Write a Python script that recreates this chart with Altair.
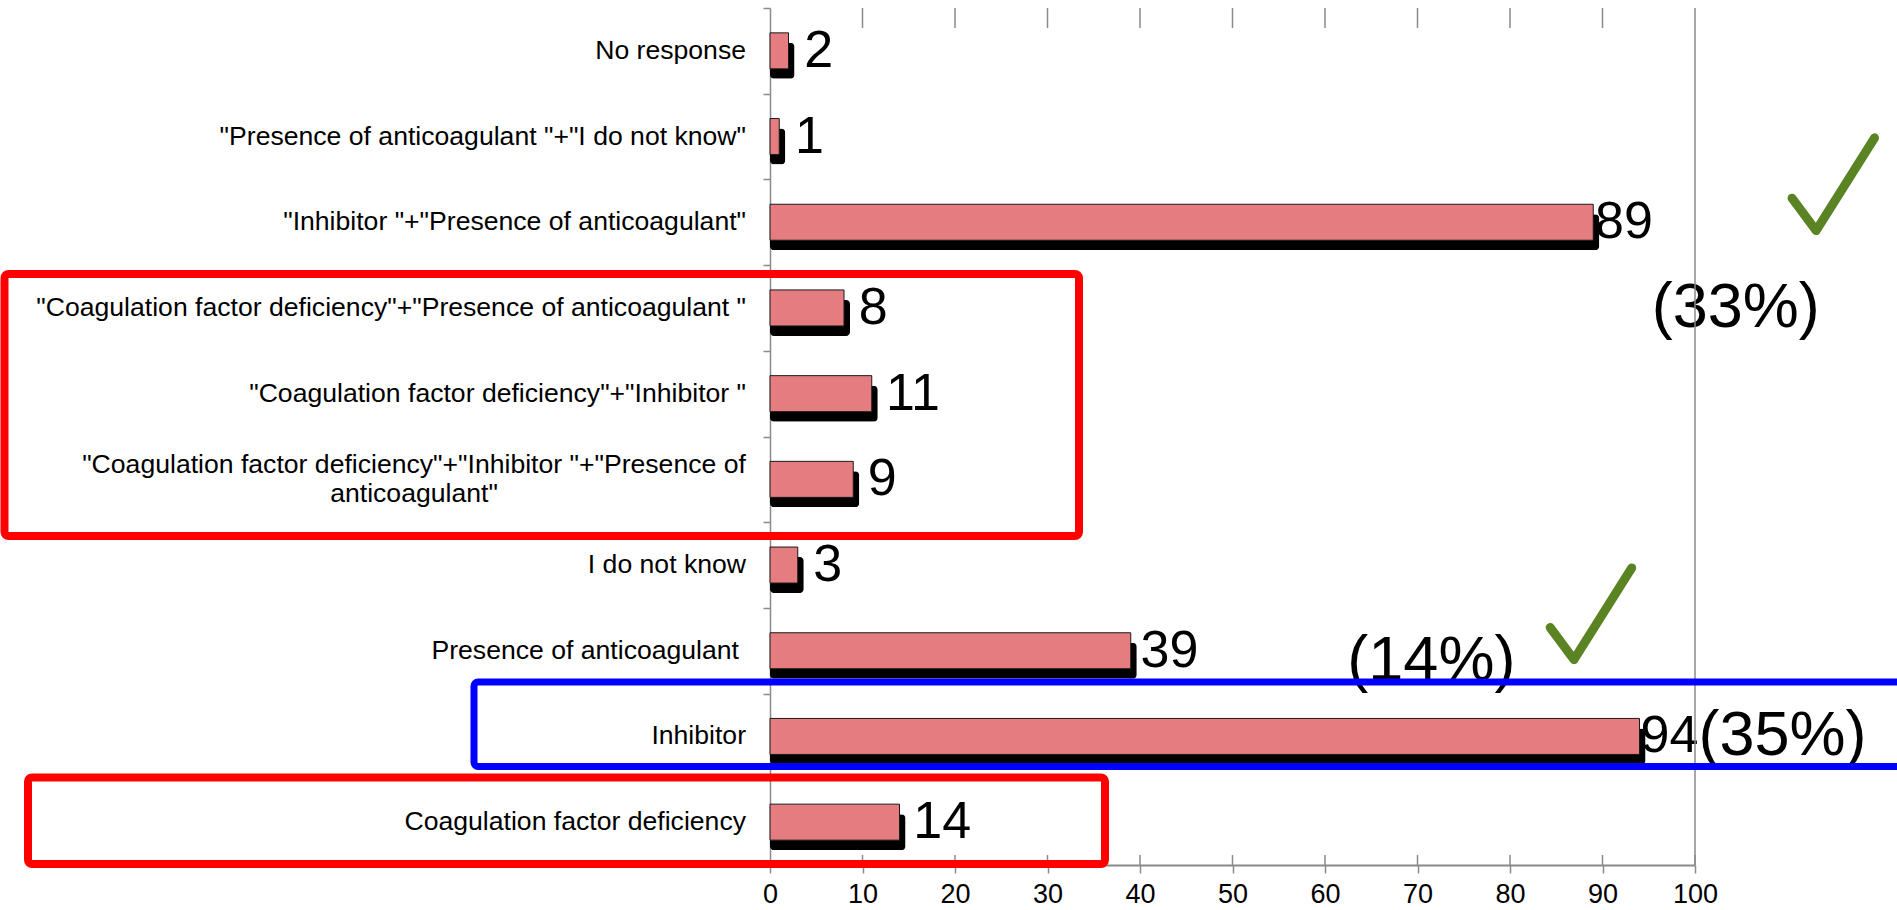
import altair as alt
import pandas as pd

# Survey answers (top to bottom) and their counts
categories = [
    'No response',
    '"Presence of anticoagulant "+"I do not know"',
    '"Inhibitor "+"Presence of anticoagulant"',
    '"Coagulation factor deficiency"+"Presence of anticoagulant "',
    '"Coagulation factor deficiency"+"Inhibitor "',
    '"Coagulation factor deficiency"+"Inhibitor "+"Presence of\nanticoagulant"',
    'I do not know',
    'Presence of anticoagulant ',
    'Inhibitor',
    'Coagulation factor deficiency',
]
counts = [2, 1, 89, 8, 11, 9, 3, 39, 94, 14]
x_ticks = [0, 10, 20, 30, 40, 50, 60, 70, 80, 90, 100]

FONT = "Liberation Sans"
GRAY = "#8a8a8a"
PINK = "#E57C80"
GREEN = "#5A8424"
W, H = 925, 857
PX = W / 100  # pixels per unit on the value axis

total = sum(counts)


def pct(v):
    return f"({round(v * 100 / total)}%)"


bars = pd.DataFrame({"category": categories, "x": counts, "label": [str(v) for v in counts]})

x_scale = alt.Scale(domain=[0, 100], nice=False, zero=True)
y_scale = alt.Scale(paddingInner=0, paddingOuter=0)

x_axis = alt.Axis(
    title=None, values=x_ticks, format="d", orient="bottom",
    domainColor=GRAY, domainWidth=2,
    tickColor=GRAY, tickWidth=1.5, tickSize=8,
    labelFont=FONT, labelFontSize=27, labelColor="black", labelPadding=8,
    labelFlush=False, labelOverlap=False, grid=False,
)
y_axis = alt.Axis(
    title=None, labels=False,
    domainColor=GRAY, domainWidth=1.5,
    tickColor=GRAY, tickWidth=1.5, tickSize=7, tickBand="extent",
)


def X(field="x"):
    return alt.X(f"{field}:Q", scale=x_scale, axis=x_axis)


def Y():
    return alt.Y("category:N", sort=categories, scale=y_scale, axis=y_axis)


ticks_df = pd.DataFrame({"x": x_ticks})

# short inward stubs at the top and bottom of every value line
top_stubs = alt.Chart(ticks_df).transform_filter("datum.x > 0 && datum.x < 100").mark_rule(
    color=GRAY, strokeWidth=1.5,
).encode(x=X(), y=alt.value(0), y2=alt.value(20))
bottom_stubs = alt.Chart(ticks_df).transform_filter("datum.x > 0").mark_rule(
    color=GRAY, strokeWidth=1.5,
).encode(x=X(), y=alt.value(H - 10), y2=alt.value(H))
edge = alt.Chart(ticks_df).transform_filter("datum.x == 100").mark_rule(
    color=GRAY, strokeWidth=1.5,
).encode(x=X(), y=alt.value(0), y2=alt.value(H))

# category names, right-aligned left of the axis; the two-line one is centred
LAB = dict(fontSize=26.6, font=FONT, color="black", baseline="middle")
base_lab = alt.Chart(bars)
lab_plain = base_lab.transform_filter(
    "indexof(datum.category, '\\n') < 0 && slice(datum.category, -1) != ' '"
).mark_text(align="right", **LAB).encode(x=alt.value(-24), y=Y(), text="category:N")
lab_space = base_lab.transform_filter("slice(datum.category, -1) == ' '").mark_text(
    align="right", **LAB).encode(x=alt.value(-31), y=Y(), text="category:N")
lab_multi = base_lab.transform_filter("indexof(datum.category, '\\n') >= 0").mark_text(
    align="center", lineBreak="\n", lineHeight=29, dy=-14.5, **LAB).encode(
    x=alt.value(-356), y=Y(), text="category:N")

# drop shadow: same bar, reaching a few pixels further right and lower
shadow = alt.Chart(bars).transform_calculate(
    sx=f"datum.x + 6 / {PX}"
).mark_bar(
    color="black", height={"band": 0.42}, yOffset=10, y2Offset=10, cornerRadius=4,
).encode(x=X("sx"), y=Y())

bar = alt.Chart(bars).mark_bar(
    color=PINK, height={"band": 0.42}, stroke="#1a1a1a", strokeWidth=1,
).encode(x=X(), y=Y())

# value labels sit just past the end of each bar
values = alt.Chart(bars).transform_calculate(
    lx=f"datum.x + (16 - 0.16 * datum.x) / {PX}"
).mark_text(
    align="left", baseline="middle", fontSize=52, font=FONT, color="black",
).encode(x=X("lx"), y=Y(), text="label:N")

# share of the largest answer, written right after its count
inh = pd.DataFrame({"category": ["Inhibitor"], "x": [counts[categories.index("Inhibitor")]]})
inh["label"] = [pct(v) for v in inh["x"]]
inline_pct = alt.Chart(inh).transform_calculate(
    lx=f"datum.x + (16 - 0.16 * datum.x) / {PX}"
).mark_text(
    align="left", baseline="middle", dx=58, fontSize=63, font=FONT, color="black",
).encode(x=X("lx"), y=Y(), text="label:N")

# percentage call-outs placed beside the two other large answers
callouts = []
for src, row, xpos, dy in [
    ('"Inhibitor "+"Presence of anticoagulant"', categories[3], 104.4, 0),
    ('Presence of anticoagulant ', categories[7], 71.5, 10),
]:
    d = pd.DataFrame({"category": [row], "x": [xpos],
                      "label": [pct(counts[categories.index(src)])]})
    callouts.append(
        alt.Chart(d).mark_text(
            align="center", baseline="middle", dy=dy, fontSize=63, font=FONT,
            color="black",
        ).encode(x=X(), y=Y(), text="label:N")
    )

# highlight frames
frames = []
for (x0, y0, x1, y1, col, sw) in [
    (-765.5, 266, 309, 528, "#FF0000", 8),
    (-742, 769.5, 335, 856, "#FF0000", 8),
    (-296, 674, 1140, 758.5, "#0000FF", 7),
]:
    frames.append(
        alt.Chart(pd.DataFrame({"k": [0]})).mark_rect(
            fillOpacity=0, stroke=col, strokeWidth=sw, cornerRadius=4,
        ).encode(x=alt.value(x0), x2=alt.value(x1), y=alt.value(y0), y2=alt.value(y1))
    )

# check marks next to the correct answers
CHECK = "M -0.9 0.3 L -0.38 1 L 0.88 -1"
checks = []
for row, xpos, dy, size in [
    (categories[2], 115.0, -38, 8600),
    (categories[7], 88.8, -37, 8400),
]:
    d = pd.DataFrame({"category": [row], "x": [xpos]})
    checks.append(
        alt.Chart(d).mark_point(
            shape=CHECK, filled=False, stroke=GREEN, strokeWidth=9, size=size,
            strokeCap="round", strokeJoin="round", opacity=1, yOffset=dy,
        ).encode(x=X(), y=Y())
    )

chart = alt.layer(
    top_stubs, bottom_stubs, lab_plain, lab_space, lab_multi, shadow, bar, values,
    inline_pct, *callouts, edge, *frames, *checks
).properties(
    width=W, height=H,
    autosize=alt.AutoSizeParams(type="none"),
    padding={"left": 770, "top": 8, "right": 202, "bottom": 45},
    background="white",
).configure_view(stroke=None)

chart.save("out.html", embed_options={"renderer": "svg", "actions": False})
